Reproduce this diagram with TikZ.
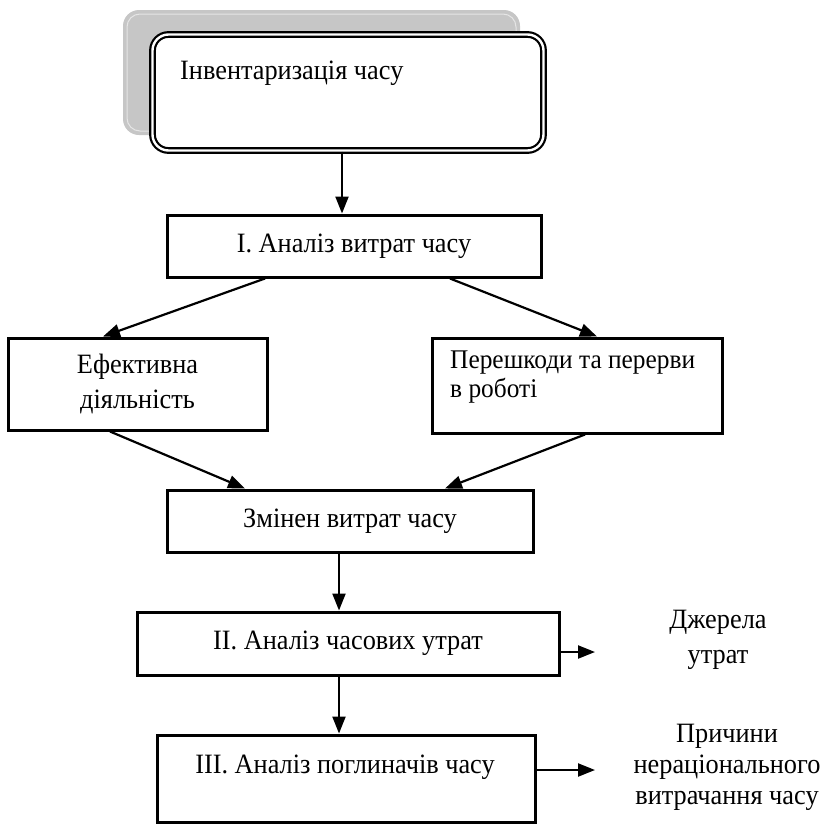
\documentclass[tikz,border=0pt]{standalone}
\usepackage{fontspec}
\setmainfont{Liberation Serif}[FakeStretch=0.94]
\usetikzlibrary{arrows.meta,calc}
\begin{document}
\begin{tikzpicture}[x=1pt,y=-1pt,
  box/.style={draw=black,line width=3pt,fill=white,inner sep=0pt},
  conn/.style={line width=2.2pt,-{Triangle[length=17pt,width=13pt]}},
  lbl/.style={font=\fontsize{28}{35}\selectfont,inner sep=0pt},
  lbltight/.style={font=\fontsize{27}{29}\selectfont,inner sep=0pt}]
\useasboundingbox (0,0) rectangle (825,825);
% shadow of the top box
\fill[gray!45, rounded corners=16pt] (123,10) rectangle (520,135);
\draw[gray!20, line width=1pt, rounded corners=13pt] (127,14) rectangle (516,131);
% top double box
\node[draw=black, fill=white, line width=2.2pt, double=white, double distance=2.4pt,
      rounded corners=16pt, minimum width=391pt, minimum height=116pt, inner sep=0pt]
      (inv) at (348,92.5) {};
\node[lbl, anchor=west] (invt) at (180,73) {Інвентаризація часу};
% boxes
\node[box, lbl, minimum width=374pt, minimum height=62pt] (b1) at (354,246) {I. Аналіз витрат часу};
\node[box, lbl, align=center, minimum width=259pt, minimum height=92pt] (eff) at (137.5,384) {Ефективна\\діяльність};
\node[box, minimum width=290pt, minimum height=95pt] (per) at (577,385.5) {};
\node[lbltight, align=left, anchor=west] (pert) at (450,377) {Перешкоди та перерви\\в роботі};
\node[box, lbl, minimum width=366pt, minimum height=62pt] (zm) at (350,521) {Змінен витрат часу};
\node[box, lbl, minimum width=422pt, minimum height=63pt] (b2) at (348,643.5) {II. Аналіз часових утрат};
\node[box, minimum width=378pt, minimum height=87pt] (b3) at (346,778.5) {};
\node[lbl] (b3t) at (345,767) {III. Аналіз поглиначів часу};
% right labels
\node[lbl, align=center] (src) at (718,640) {Джерела\\утрат};
\node[font=\fontsize{28}{31}\selectfont, inner sep=0pt, align=center] (cause) at (727,767) {Причини\\нераціонального\\витрачання часу};
\coordinate (srcA) at (595,652);
\coordinate (causeA) at (595,770);
% connectors
\draw[conn] ([xshift=-6pt]inv.south) -- ([xshift=-12pt]b1.north);
\draw[conn] ([xshift=-89pt]b1.south) -- ([xshift=-34.5pt]eff.north);
\draw[conn] ([xshift=96pt]b1.south) -- ([xshift=20pt]per.north);
\draw[conn] ([xshift=-27.5pt]eff.south) -- ([xshift=-105pt]zm.north);
\draw[conn] ([xshift=8pt]per.south) -- ([xshift=95pt]zm.north);
\draw[conn] ([xshift=-11pt]zm.south) -- ([xshift=-9pt]b2.north);
\draw[conn] ([xshift=-9pt]b2.south) -- ([xshift=-7pt]b3.north);
\draw[conn] ([yshift=-8.5pt]b2.east) -- (srcA);
\draw[conn] ([yshift=8.5pt]b3.east) -- (causeA);
\end{tikzpicture}
\end{document}
